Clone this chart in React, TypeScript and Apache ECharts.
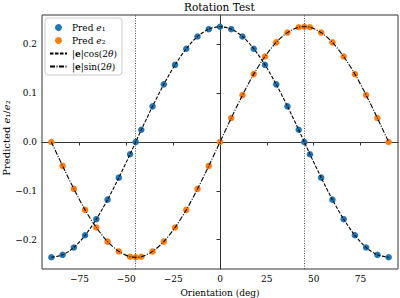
import React, { useEffect, useRef } from "react";
import * as echarts from "echarts";

const angles = [-90, -84, -78, -72, -66, -60, -54, -48, -45, -42, -36, -30, -24, -18, -12, -6, 0, 6, 12, 18, 24, 30, 36, 42, 45, 48, 54, 60, 66, 72, 78, 84, 90];
const predE1 = [-0.236, -0.231, -0.216, -0.191, -0.158, -0.118, -0.073, -0.025, 0.0, 0.025, 0.073, 0.118, 0.158, 0.191, 0.216, 0.231, 0.236, 0.231, 0.216, 0.191, 0.158, 0.118, 0.073, 0.025, 0.0, -0.025, -0.073, -0.118, -0.158, -0.191, -0.216, -0.231, -0.236];
const predE2 = [0.0, -0.049, -0.096, -0.139, -0.175, -0.204, -0.224, -0.235, -0.236, -0.235, -0.224, -0.204, -0.175, -0.139, -0.096, -0.049, 0.0, 0.049, 0.096, 0.139, 0.175, 0.204, 0.224, 0.235, 0.236, 0.235, 0.224, 0.204, 0.175, 0.139, 0.096, 0.049, 0.0];
const fitCos = predE1;
const fitSin = predE2;
const refLines = [-45, 0, 45];
const xTicks = [-75, -50, -25, 0, 25, 50, 75];
const yTicks = [-0.2, -0.1, 0, 0.1, 0.2];

const FONT = "DejaVu Serif";

export default function App() {
  const ref = useRef<HTMLDivElement>(null);
  useEffect(() => {
    if (!ref.current) return;
    const chart = echarts.init(ref.current, undefined, { renderer: "svg" });
    const pair = (ys: number[]) => angles.map((a, i) => [a, ys[i]]);
    const legendNames: Record<string, string> = {
      e1: "{n|Pred }{i|e}{n|₁}",
      e2: "{n|Pred }{i|e}{n|₂}",
      cos: "{n||}{b|e}{n||cos(2}{i|θ}{n|)}",
      sin: "{n||}{b|e}{n||sin(2}{i|θ}{n|)}",
    };
    const axisLineStyle = { color: "#333", width: 1 };
    const hiddenSymbol = { color: "rgba(0,0,0,0)", borderWidth: 0, opacity: 0 };
    chart.setOption({
      animation: false,
      backgroundColor: "#fff",
      title: {
        text: "Rotation Test",
        left: 184,
        top: 1,
        padding: 0,
        textStyle: { fontFamily: FONT, fontSize: 10.5, fontWeight: "normal", color: "#000" },
      },
      grid: {
        left: 42,
        right: 2,
        top: 15,
        bottom: 29,
        containLabel: false,
        outerBoundsMode: "none",
        show: true,
        borderColor: "#333",
        borderWidth: 1,
        backgroundColor: "transparent",
      },
      legend: {
        orient: "vertical",
        left: 45,
        top: 18,
        padding: [4, 5, 3, 4],
        itemWidth: 17,
        itemHeight: 7,
        itemGap: 2,
        borderColor: "#ccc",
        borderWidth: 1,
        borderRadius: 3,
        backgroundColor: "rgba(255,255,255,0.8)",
        data: [
          { name: "e1" },
          { name: "e2" },
          { name: "cos", itemStyle: hiddenSymbol },
          { name: "sin", itemStyle: hiddenSymbol },
        ],
        formatter: (name: string) => legendNames[name] || name,
        textStyle: {
          fontFamily: FONT,
          fontSize: 9,
          color: "#000",
          lineHeight: 11,
          rich: {
            n: { fontFamily: FONT, fontSize: 9, color: "#000" },
            i: { fontFamily: FONT, fontSize: 9, fontStyle: "italic", color: "#000" },
            b: { fontFamily: FONT, fontSize: 9, fontWeight: "bold", color: "#000" },
          },
        },
      },
      xAxis: {
        type: "value",
        min: -95,
        max: 95,
        name: "Orientation (deg)",
        nameLocation: "middle",
        nameGap: 19,
        nameMoveOverlap: false,
        nameTextStyle: { fontFamily: FONT, fontSize: 9, color: "#000" },
        splitLine: { show: false },
        axisLine: { show: true, lineStyle: axisLineStyle },
        axisTick: { show: true, length: 3.5, lineStyle: axisLineStyle, customValues: xTicks },
        axisLabel: {
          fontFamily: FONT,
          fontSize: 9,
          color: "#000",
          margin: 5,
          customValues: xTicks,
          formatter: (v: number) => String(v).replace("-", "−"),
        },
      },
      yAxis: {
        type: "value",
        min: -0.26,
        max: 0.26,
        name: "Predicted {i|e}₁/{i|e}₂",
        nameLocation: "middle",
        nameGap: 30,
        nameMoveOverlap: false,
        nameRotate: 90,
        nameTextStyle: {
          fontFamily: FONT,
          fontSize: 10,
          color: "#000",
          lineHeight: 11,
          padding: [0, 0, 0, 8],
          rich: { i: { fontFamily: FONT, fontSize: 10, fontStyle: "italic", color: "#000" } },
        },
        splitLine: { show: false },
        axisLine: { show: true, lineStyle: axisLineStyle },
        axisTick: { show: true, length: 3.5, lineStyle: axisLineStyle, customValues: yTicks },
        axisLabel: {
          fontFamily: FONT,
          fontSize: 9,
          color: "#000",
          margin: 5,
          customValues: yTicks,
          formatter: (v: number) => v.toFixed(1).replace("-", "−"),
        },
      },
      series: [
        {
          name: "e1",
          type: "scatter",
          data: pair(predE1),
          symbolSize: 6.5,
          itemStyle: { color: "#1f77b4", opacity: 1 },
          z: 2,
        },
        {
          name: "e2",
          type: "scatter",
          data: pair(predE2),
          symbolSize: 6.5,
          itemStyle: { color: "#ff7f0e", opacity: 1 },
          z: 2,
        },
        {
          name: "cos",
          type: "line",
          data: pair(fitCos),
          smooth: 0.3,
          symbol: "none",
          lineStyle: { color: "#000", width: 1.1, type: [3.5, 1.5] },
          itemStyle: { color: "#000" },
          z: 4,
          markLine: {
            silent: true,
            symbol: ["none", "none"],
            label: { show: false },
            lineStyle: { color: "#333", width: 0.9, type: [1, 1.5] },
            data: refLines.map((x) => ({ xAxis: x })),
          },
        },
        {
          name: "sin",
          type: "line",
          data: pair(fitSin),
          smooth: 0.3,
          symbol: "none",
          lineStyle: { color: "#000", width: 1.1, type: [5, 1.5, 1, 1.5] },
          itemStyle: { color: "#000" },
          z: 4,
        },
      ],
    });
    return () => chart.dispose();
  }, []);
  return (
    <div
      ref={ref}
      style={{ position: "fixed", left: 0, top: 0, width: 400, height: 298 }}
    />
  );
}
